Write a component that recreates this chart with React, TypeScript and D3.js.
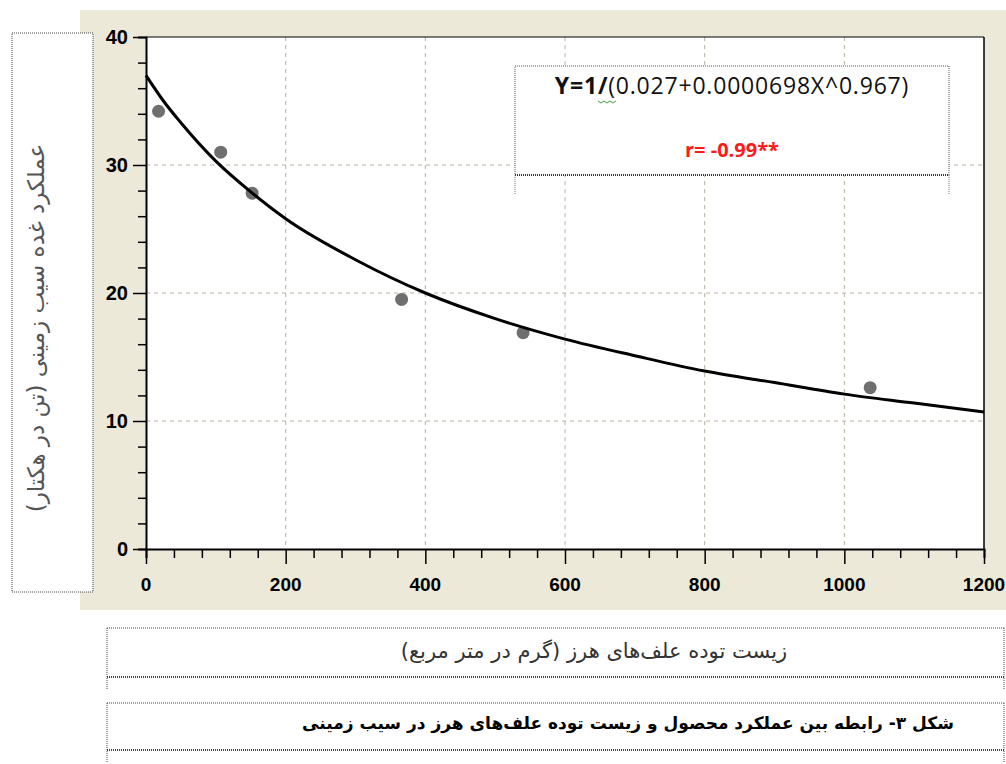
import { useEffect, useRef } from 'react';
import * as d3 from 'd3';

// observed points (weed biomass g/m2, tuber yield t/ha)
const biomass = [18, 107, 152, 366, 540, 1037];
const tuberYield = [34.2, 31.0, 27.8, 19.5, 16.9, 12.6];

// fitted curve
const curveX = [0, 25, 50, 100, 150, 200, 300, 400, 500, 600, 700, 800, 900, 1000, 1100, 1200];
const curveY = [37.0, 35.0, 33.3, 30.3, 27.9, 25.8, 22.6, 20.0, 18.0, 16.4, 15.1, 13.9, 13.0, 12.1, 11.4, 10.7];

const xTicks = [0, 200, 400, 600, 800, 1000, 1200];
const yTicks = [0, 10, 20, 30, 40];

const yTitle = 'عملکرد غده سیب زمینی (تن در هکتار)';
const xTitle = 'زیست توده علف‌های هرز (گرم در متر مربع)';
const caption = 'شکل ۳- رابطه بین عملکرد محصول و زیست توده علف‌های هرز در سیب زمینی';
const equation = 'Y=1/(0.027+0.0000698X^0.967)';
const rLabel = 'r= -0.99**';

const App = () => {
  const ref = useRef<SVGSVGElement>(null);

  useEffect(() => {
    document.body.style.margin = '0';
    if (!ref.current) return;
    const svg = d3.select(ref.current);
    svg.selectAll('*').remove();

    const left = 146, right = 984, top = 37, bottom = 549;
    const x = d3.scaleLinear().domain([0, 1200]).range([left, right]);
    const y = d3.scaleLinear().domain([0, 40]).range([bottom, top]);

    // beige chart background
    svg.append('rect').attr('x', 80).attr('y', 10).attr('width', 926).attr('height', 600).attr('fill', '#ece9d8');
    svg.append('rect').attr('x', left).attr('y', top).attr('width', right - left).attr('height', bottom - top).attr('fill', '#fff');

    // grid
    const grid = svg.append('g').attr('stroke', '#b9b2a2').attr('stroke-dasharray', '4,4').attr('stroke-width', 1);
    xTicks.slice(1, -1).forEach(t => {
      grid.append('line').attr('x1', x(t)).attr('x2', x(t)).attr('y1', top).attr('y2', bottom);
    });
    yTicks.slice(1, -1).forEach(t => {
      grid.append('line').attr('x1', left).attr('x2', right).attr('y1', y(t)).attr('y2', y(t));
    });

    // equation box
    const bx = 515, by = 66, bw = 434, bh = 109;
    svg.append('rect').attr('x', bx).attr('y', by).attr('width', bw).attr('height', bh)
      .attr('fill', '#fff').attr('stroke', '#555').attr('stroke-dasharray', '1,1').attr('stroke-width', 1);
    svg.append('line').attr('x1', bx).attr('x2', bx + bw).attr('y1', by + bh).attr('y2', by + bh)
      .attr('stroke', '#333').attr('stroke-dasharray', '1,1').attr('stroke-width', 2);
    [bx, bx + bw].forEach(px => {
      svg.append('line').attr('x1', px).attr('x2', px).attr('y1', by + bh).attr('y2', by + bh + 20)
        .attr('stroke', '#777').attr('stroke-dasharray', '1,1');
    });
    const eq = svg.append('text').attr('x', bx + bw / 2).attr('y', 94).attr('text-anchor', 'middle')
      .style('font-family', '"Open Sans", "Liberation Sans", sans-serif').style('font-size', '23px')
      .style('letter-spacing', '0.8px').attr('fill', '#111');
    eq.append('tspan').style('font-weight', 'bold').text(equation.slice(0, 4));
    eq.append('tspan').text(equation.slice(4));
    // green squiggle under "/("
    const eqNode = eq.node() as SVGTextElement;
    let sq = 583;
    try {
      const full = eqNode.getComputedTextLength();
      const start = bx + bw / 2 - full / 2;
      sq = start + eqNode.getSubStringLength(0, 3);
    } catch (e) { /* keep default */ }
    const squig = d3.range(0, 7).map(i => [sq + i * 3, 101 + (i % 2 ? 2 : 0)] as [number, number]);
    svg.append('path').attr('d', d3.line()(squig))
      .attr('fill', 'none').attr('stroke', '#3aa03a').attr('stroke-width', 1);
    svg.append('text').attr('x', bx + bw / 2).attr('y', 157).attr('text-anchor', 'middle')
      .style('font-family', '"Open Sans", "Liberation Sans", sans-serif').style('font-size', '20px')
      .style('font-weight', 'bold').attr('fill', '#ff1a1a').text(rLabel);

    // frame
    svg.append('line').attr('x1', left).attr('x2', right).attr('y1', top).attr('y2', top).attr('stroke', '#000');
    svg.append('line').attr('x1', right).attr('x2', right).attr('y1', top).attr('y2', bottom).attr('stroke', '#000').attr('stroke-width', 1.5);

    // y axis
    const ya = svg.append('g').attr('transform', `translate(${left},0)`);
    ya.call(d3.axisLeft(y).tickValues(d3.range(0, 41, 2)).tickSize(8).tickFormat(() => ''));
    ya.call(g => g.selectAll('.tick line').filter((d: any) => d % 10 === 0).attr('x2', -13));
    ya.select('.domain').attr('stroke-width', 2);
    ya.selectAll('.tick line').attr('stroke-width', 1.5);
    yTicks.forEach(t => {
      svg.append('text').attr('x', 128).attr('y', y(t)).attr('dy', '0.36em').attr('text-anchor', 'end')
        .style('font-family', '"Liberation Sans", Arial, sans-serif').style('font-size', '20px').style('font-weight', 'bold')
        .text(t);
    });

    // x axis
    const xa = svg.append('g').attr('transform', `translate(0,${bottom})`);
    xa.call(d3.axisBottom(x).tickValues(d3.range(0, 1201, 40)).tickSize(9).tickFormat(() => ''));
    xa.call(g => g.selectAll('.tick line').filter((d: any) => d % 200 === 0).attr('y2', 15));
    xa.select('.domain').attr('stroke-width', 2);
    xa.selectAll('.tick line').attr('stroke-width', 1.5);
    xTicks.forEach(t => {
      svg.append('text').attr('x', x(t)).attr('y', 591).attr('text-anchor', 'middle')
        .style('font-family', '"Liberation Sans", Arial, sans-serif').style('font-size', '19px').style('font-weight', 'bold')
        .text(t);
    });

    // points
    svg.append('g').selectAll('circle').data(biomass).enter().append('circle')
      .attr('cx', d => x(d)).attr('cy', (d, i) => y(tuberYield[i])).attr('r', 6.5).attr('fill', '#6f6f6f');

    // fitted curve
    const line = d3.line<number>().x(d => x(d)).y((d, i) => y(curveY[i])).curve(d3.curveMonotoneX);
    svg.append('path').datum(curveX).attr('fill', 'none').attr('stroke', '#000').attr('stroke-width', 3).attr('d', line);

    // y title box
    svg.append('rect').attr('x', 12).attr('y', 33).attr('width', 81).attr('height', 559)
      .attr('fill', '#fff').attr('stroke', '#444').attr('stroke-dasharray', '1,1');
    svg.append('text').attr('transform', `translate(36,328) rotate(-90)`).attr('text-anchor', 'middle')
      .attr('dy', '0.35em').style('font-family', '"DejaVu Sans", sans-serif').style('font-size', '23px')
      .attr('fill', '#555').attr('direction', 'rtl').text(yTitle);

    // x title & caption boxes
    const boxL = 107, boxR = 1004;
    const dotted = (x1: number, y1: number, x2: number, y2: number, w = 1) =>
      svg.append('line').attr('x1', x1).attr('y1', y1).attr('x2', x2).attr('y2', y2)
        .attr('stroke', '#444').attr('stroke-dasharray', '1,1').attr('stroke-width', w);
    [[628, 677], [703, 750]].forEach(([t, b]) => {
      dotted(boxL, t, boxR, t);
      dotted(boxL, b, boxR, b, 2);
      dotted(boxL, t, boxL, b + 13);
      dotted(boxR, t, boxR, b + 13);
    });
    svg.append('text').attr('x', 594).attr('y', 651).attr('dy', '0.35em').attr('text-anchor', 'middle')
      .attr('direction', 'rtl').style('font-family', '"DejaVu Sans", sans-serif').style('font-size', '21px')
      .attr('fill', '#333').text(xTitle);
    svg.append('text').attr('x', 628).attr('y', 723).attr('dy', '0.35em').attr('text-anchor', 'middle')
      .attr('direction', 'rtl').style('font-family', '"DejaVu Sans", sans-serif').style('font-size', '17px')
      .style('font-weight', 'bold').attr('fill', '#000').text(caption);
  }, []);

  return <svg ref={ref} width={1006} height={764} style={{ display: 'block', background: '#fff' }} />;
};

export default App;
